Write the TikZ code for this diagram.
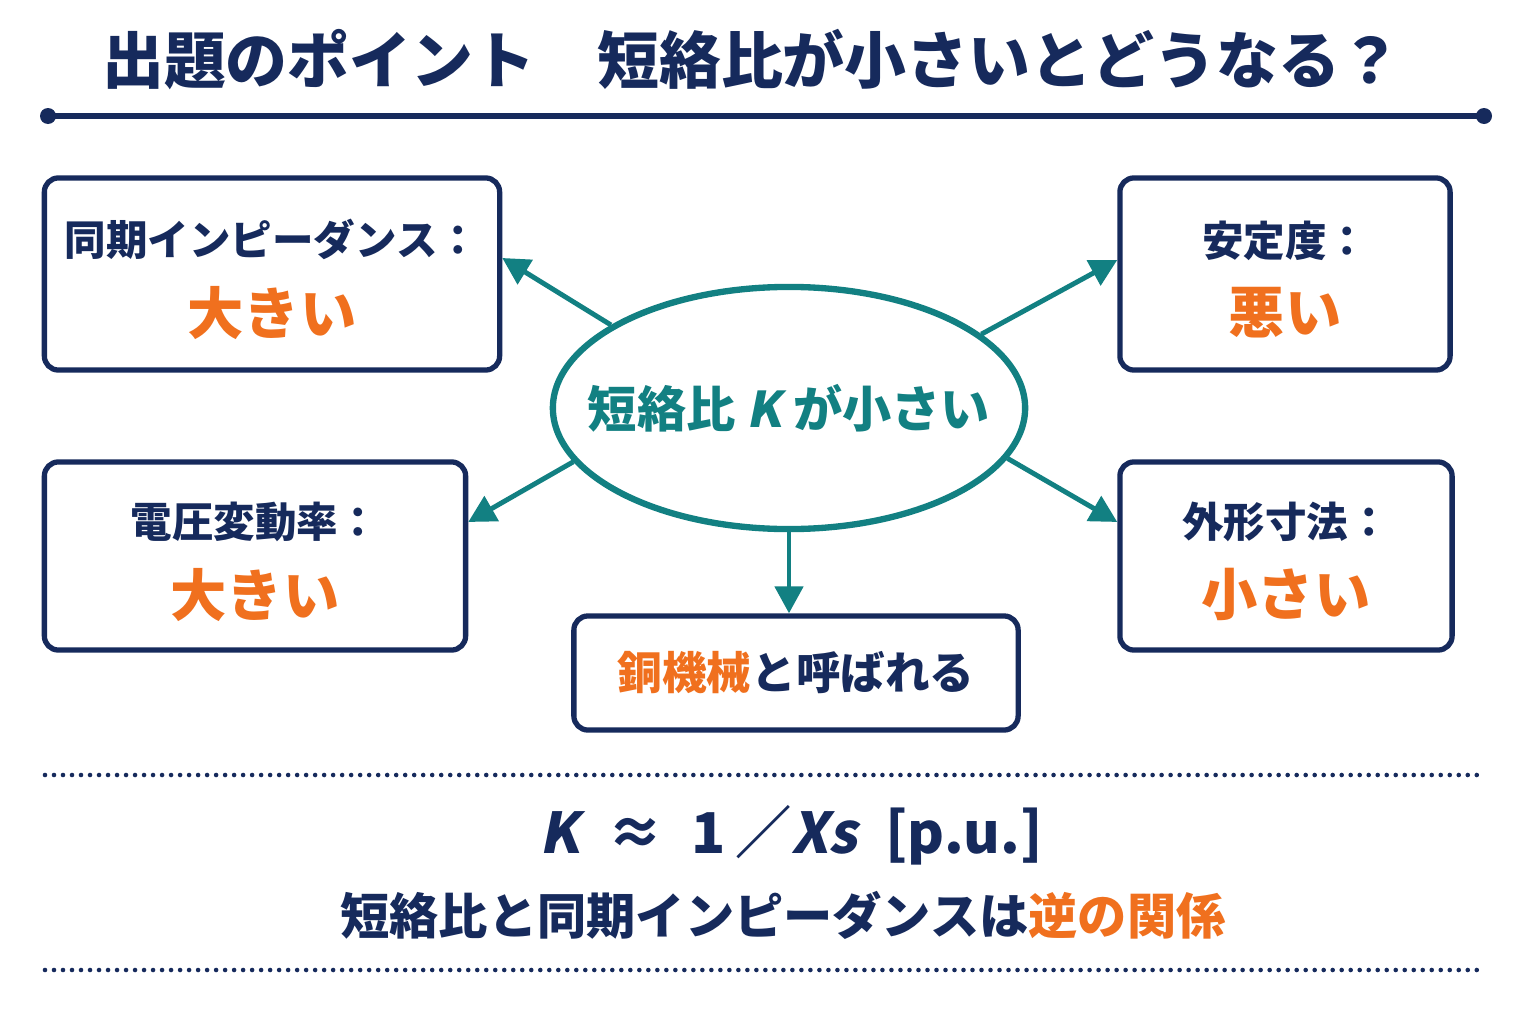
\documentclass[tikz,border=0pt]{standalone}
\usepackage{fontspec}
\setmainfont{Noto Sans CJK JP}
\newfontfamily\slantfont{Noto Sans CJK JP}[FakeSlant=0.2]
\usetikzlibrary{shapes.geometric, arrows.meta, calc}
\definecolor{colNavy}{RGB}{22,42,92}
\definecolor{colTeal}{RGB}{18,128,130}
\definecolor{colOrange}{RGB}{240,112,30}
\newcommand{\hot}[1]{\textcolor{colOrange}{#1}}
\tikzset{
  % boxes round the centre
  infobox/.style={
    rectangle, rounded corners=0.14cm,
    draw=colNavy, line width=1.5pt, fill=white,
    text=colNavy, font=\bfseries, align=center, inner sep=0pt,
  },
  % centre ellipse
  core/.style={
    ellipse, draw=colTeal, line width=1.8pt, fill=white,
    minimum width=4.72cm, minimum height=2.42cm,
    inner xsep=-0.5cm, inner ysep=0pt,
    text=colTeal, font=\bfseries\fontsize{14}{16}\selectfont,
  },
  % arrows and rules
  linkArr/.style={-{Triangle[length=0.27cm,width=0.28cm]}, line width=1.4pt, draw=colTeal},
  dotRule/.style={draw=colNavy, line width=1.3pt, line cap=round, dash pattern=on 0pt off 0.09cm},
}
\newcommand{\boxtext}[2]{{\fontsize{11.8}{14}\selectfont\rule{0pt}{0.47cm}#1}\\[0.23cm]{\fontsize{16}{18}\selectfont\hot{#2}}}

\begin{document}
\begin{tikzpicture}[x=0.01cm, y=-0.01cm]
\useasboundingbox[fill=white] (0,0) rectangle (1536,1024);

% ── title ────────────────────────────────────────────────────────────────
\node[text=colNavy, font=\bfseries\fontsize{17.6}{20}\selectfont] (title) at (752,60)
  {出題のポイント　短絡比が小さいとどうなる？};
\coordinate (ruleL) at (48,116);
\coordinate (ruleR) at (1484,116);
\draw[colNavy, line width=1.5pt] (ruleL) -- (ruleR);
\fill[colNavy] (ruleL) circle (8) (ruleR) circle (8);

% ── centre ───────────────────────────────────────────────────────────────
\node[core] (core) at (789,408) {短絡比 {\slantfont K} が小さい};

% ── result boxes ─────────────────────────────────────────────────────────
\node[infobox, minimum width=4.55cm, minimum height=1.92cm] (impBox) at (272,274)
  {\boxtext{同期インピーダンス：}{大きい}};
\node[infobox, minimum width=3.30cm, minimum height=1.92cm] (stabBox) at (1285,274)
  {\boxtext{安定度：}{悪い}};
\node[infobox, minimum width=4.21cm, minimum height=1.88cm] (voltBox) at (255,556)
  {\boxtext{電圧変動率：}{大きい}};
\node[infobox, minimum width=3.32cm, minimum height=1.88cm] (sizeBox) at (1286,556)
  {\boxtext{外形寸法：}{小さい}};
\node[infobox, minimum width=4.44cm, minimum height=1.14cm, font=\bfseries\fontsize{12.7}{15}\selectfont]
  (copperBox) at (796,673) {\hot{銅機械}と呼ばれる};

% ── arrows ───────────────────────────────────────────────────────────────
\draw[linkArr] (core.155) -- ([yshift=0.16cm]impBox.east);
\draw[linkArr] (core.21)  -- ([yshift=0.14cm]stabBox.west);
\draw[linkArr] (core.194) -- ([yshift=0.34cm]voltBox.east);
\draw[linkArr] (core.347) -- ([yshift=0.34cm]sizeBox.west);
\draw[linkArr] (core.south) -- (core.south |- copperBox.north);

% ── formula ──────────────────────────────────────────────────────────────
\coordinate (dotA1) at (45,775);
\coordinate (dotA2) at (1482,775);
\coordinate (dotB1) at (45,970);
\coordinate (dotB2) at (1482,970);
\draw[dotRule] (dotA1) -- (dotA2);
\draw[dotRule] (dotB1) -- (dotB2);

\node[text=colNavy, font=\bfseries\fontsize{16}{20}\selectfont] (formula) at (791,835)
  {{\slantfont K}\enspace ≈\enspace 1\,／{\slantfont Xs}\enspace [p.u.]};
\node[text=colNavy, font=\bfseries\fontsize{14}{17}\selectfont] (note) at (783,915)
  {短絡比と同期インピーダンスは\hot{逆の関係}};

\end{tikzpicture}
\end{document}
